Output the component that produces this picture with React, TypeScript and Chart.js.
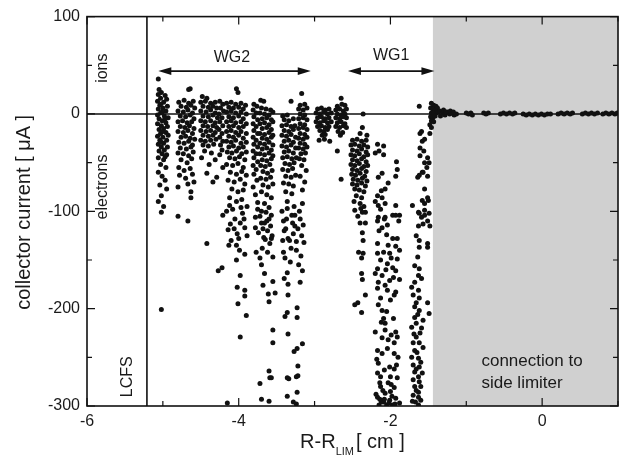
import React, { useEffect, useRef } from "react";
import { Chart, registerables } from "chart.js";

Chart.register(...registerables);

// ---- axes ----
const xTickValues = [-6, -5, -4, -3, -2, -1, 0, 1];
const xLabelValues = [-6, -4, -2, 0];
const yTickValues = [100, 50, 0, -50, -100, -150, -200, -250, -300];
const yLabelValues = [100, 0, -100, -200, -300];
const lcfsPosition = -5.21;
const limiterStart = -1.44;

// ---- WG2 region ----
const wg2ColA: [number, number][] = [
  [-5.06, 36], [-5.05, 25], [-5.02, 22], [-4.97, 19], [-5.06, 20], [-5.03, 16], [-4.95, 15], [-5.07, 13],
  [-4.99, 12], [-5.04, 9], [-4.94, 8], [-5.06, 5], [-5.0, 6], [-4.96, 3], [-5.03, 1], [-5.07, -1],
  [-4.98, -2], [-4.93, -4], [-5.05, -5], [-5.01, -7], [-4.96, -9], [-5.07, -10], [-5.02, -12], [-4.94, -13],
  [-4.99, -15], [-5.05, -16], [-5.03, -20], [-4.96, -19], [-4.93, -22], [-5.07, -23], [-5.0, -24], [-5.04, -27],
  [-4.95, -27], [-4.99, -30], [-5.06, -31], [-5.02, -34], [-4.94, -34], [-4.98, -37], [-5.05, -38], [-5.01, -41],
  [-4.95, -42], [-5.06, -45], [-4.99, -47], [-5.03, -52], [-4.96, -55], [-5.06, -60], [-5.01, -64], [-4.97, -68],
  [-5.04, -73], [-4.95, -77], [-5.02, -84], [-5.06, -90], [-4.99, -95], [-5.02, -101], [-5.02, -201],
  [-5.03, 10], [-4.97, -5], [-5.01, 2], [-5.0, -18], [-5.02, -29], [-4.97, -44],
];
const wg2ColB: [number, number][] = [
  [-4.66, 25], [-4.64, 26],
  [-4.79, 12], [-4.72, 14], [-4.66, 11], [-4.6, 13], [-4.76, 8], [-4.69, 7], [-4.63, 9], [-4.58, 6],
  [-4.8, 3], [-4.73, 2], [-4.67, 4], [-4.61, 1], [-4.77, -2], [-4.7, -3], [-4.64, -1], [-4.59, -5],
  [-4.8, -8], [-4.74, -7], [-4.68, -9], [-4.62, -8], [-4.77, -13], [-4.71, -14], [-4.65, -12], [-4.59, -15],
  [-4.8, -18], [-4.73, -19], [-4.67, -17], [-4.61, -20], [-4.76, -24], [-4.7, -23], [-4.64, -25], [-4.58, -26],
  [-4.79, -29], [-4.72, -30], [-4.66, -28], [-4.61, -32], [-4.77, -35], [-4.69, -36], [-4.63, -34],
  [-4.8, -40], [-4.73, -41], [-4.66, -43], [-4.6, -39], [-4.76, -47], [-4.68, -50], [-4.62, -46],
  [-4.79, -55], [-4.72, -58], [-4.64, -56], [-4.78, -63], [-4.7, -66], [-4.61, -62], [-4.8, -75], [-4.67, -72],
  [-4.63, -80], [-4.63, -86], [-4.8, -105], [-4.67, -110], [-4.59, -70],
];
const wg2ColC: [number, number][] = [
  [-4.48, 18], [-4.42, 16], [-4.5, 12], [-4.44, 13], [-4.37, 11], [-4.31, 12], [-4.47, 8], [-4.4, 7],
  [-4.34, 8], [-4.29, 6], [-4.5, 3], [-4.43, 2], [-4.37, 4], [-4.31, 1], [-4.47, -2], [-4.4, -3],
  [-4.34, -1], [-4.28, -4], [-4.5, -7], [-4.44, -8], [-4.37, -7], [-4.31, -9], [-4.47, -12], [-4.41, -13],
  [-4.34, -12], [-4.29, -14], [-4.5, -17], [-4.43, -18], [-4.37, -17], [-4.31, -19], [-4.47, -22], [-4.4, -23],
  [-4.34, -22], [-4.5, -27], [-4.44, -28], [-4.37, -27], [-4.3, -26], [-4.47, -32], [-4.4, -33], [-4.33, -31],
  [-4.45, -38], [-4.36, -40], [-4.49, -45], [-4.31, -47], [-4.42, -61], [-4.34, -70], [-4.29, -65], [-4.39, -52],
];
const wg2ColD: [number, number][] = [
  [-4.25, 13], [-4.21, 10], [-4.24, 6], [-4.2, 3], [-4.26, 0], [-4.22, -4], [-4.25, -8], [-4.21, -12],
  [-4.26, -16], [-4.22, -20], [-4.25, -24], [-4.21, -28], [-4.24, -32], [-4.22, -37], [-4.25, -42], [-4.21, -55],
];
const wg2ColE: [number, number][] = [
  [-4.03, 26], [-4.01, 22],
  [-4.16, 11], [-4.1, 12], [-4.04, 10], [-3.97, 11], [-3.91, 9], [-4.13, 7], [-4.07, 6], [-4.0, 7], [-3.94, 5],
  [-4.16, 2], [-4.1, 3], [-4.04, 1], [-3.97, 2], [-3.9, 0], [-4.13, -3], [-4.07, -4], [-4.0, -2], [-3.94, -5],
  [-4.16, -8], [-4.1, -7], [-4.04, -9], [-3.97, -8], [-3.9, -10], [-4.13, -13], [-4.07, -12], [-4.0, -14], [-3.94, -13],
  [-4.16, -18], [-4.1, -17], [-4.04, -19], [-3.97, -18], [-3.9, -20], [-4.13, -23], [-4.07, -24], [-4.0, -22], [-3.94, -25],
  [-4.16, -28], [-4.1, -29], [-4.04, -27], [-3.97, -30], [-3.9, -29], [-4.13, -34], [-4.07, -33], [-4.0, -35], [-3.94, -34],
  [-4.15, -39], [-4.09, -40], [-4.03, -38], [-3.96, -41], [-3.9, -39], [-4.12, -45], [-4.05, -46], [-3.99, -44], [-3.92, -47],
  [-4.16, -52], [-4.08, -53], [-4.01, -51], [-3.94, -55], [-4.11, -60], [-4.03, -62], [-3.96, -59], [-3.9, -63],
  [-4.14, -68], [-4.06, -70], [-3.98, -67], [-3.92, -72], [-4.09, -77], [-4.01, -80], [-3.94, -78],
  [-4.12, -86], [-4.03, -90], [-3.96, -88],
];
const wg2ColF: [number, number][] = [
  [-3.8, 10], [-3.76, 8], [-3.81, 4], [-3.77, 1], [-3.8, -3], [-3.75, -6], [-3.81, -10], [-3.77, -13],
  [-3.8, -17], [-3.75, -20], [-3.81, -24], [-3.77, -27], [-3.8, -31], [-3.75, -34], [-3.81, -38], [-3.77, -41],
  [-3.8, -45], [-3.75, -49], [-3.81, -53], [-3.77, -57], [-3.8, -62], [-3.76, -68], [-3.81, -75], [-3.78, -83], [-3.75, -91],
];
const wg2ColG: [number, number][] = [
  [-3.71, 14], [-3.67, 13], [-3.7, 6], [-3.64, 5], [-3.58, 4], [-3.72, 1], [-3.66, 0], [-3.6, -1], [-3.55, 2],
  [-3.69, -5], [-3.63, -4], [-3.57, -6], [-3.72, -10], [-3.66, -9], [-3.6, -11], [-3.55, -8],
  [-3.69, -15], [-3.63, -14], [-3.57, -16], [-3.72, -20], [-3.66, -21], [-3.6, -19], [-3.55, -22],
  [-3.69, -25], [-3.63, -26], [-3.57, -24], [-3.72, -30], [-3.66, -31], [-3.6, -29], [-3.55, -32],
  [-3.69, -36], [-3.63, -35], [-3.57, -37], [-3.72, -41], [-3.66, -42], [-3.6, -40], [-3.55, -43],
  [-3.69, -47], [-3.63, -48], [-3.57, -46], [-3.71, -53], [-3.65, -54], [-3.59, -52],
  [-3.68, -59], [-3.62, -61], [-3.56, -58], [-3.71, -66], [-3.64, -67], [-3.58, -65],
  [-3.68, -73], [-3.61, -75], [-3.55, -72], [-3.7, -80], [-3.63, -83], [-3.57, -86], [-3.66, -92], [-3.6, -96], [-3.7, -100],
];
const wg2ColH: [number, number][] = [
  [-3.31, 13], [-3.42, -2], [-3.36, -1], [-3.4, -6], [-3.34, -7], [-3.28, -5],
  [-3.43, -12], [-3.37, -11], [-3.31, -13], [-3.26, -12], [-3.4, -17], [-3.34, -18], [-3.28, -16],
  [-3.43, -22], [-3.37, -23], [-3.31, -21], [-3.25, -24], [-3.4, -28], [-3.34, -27], [-3.28, -29],
  [-3.43, -33], [-3.37, -34], [-3.31, -32], [-3.25, -35], [-3.4, -39], [-3.34, -38], [-3.28, -40],
  [-3.42, -45], [-3.36, -44], [-3.3, -46], [-3.24, -45], [-3.39, -51], [-3.33, -52], [-3.27, -50],
  [-3.42, -57], [-3.35, -58], [-3.29, -56], [-3.38, -64], [-3.31, -65], [-3.25, -63],
  [-3.41, -71], [-3.34, -72], [-3.28, -74], [-3.38, -80], [-3.3, -82], [-3.36, -90], [-3.27, -95],
];
const wg2ColI: [number, number][] = [
  [-3.17, 21], [-3.19, 9], [-3.13, 10], [-3.21, 5], [-3.15, 4], [-3.1, 6], [-3.19, 0], [-3.13, -1],
  [-3.21, -5], [-3.15, -4], [-3.1, -6], [-3.19, -10], [-3.13, -11], [-3.21, -15], [-3.15, -14], [-3.1, -16],
  [-3.19, -20], [-3.13, -21], [-3.21, -25], [-3.15, -26], [-3.1, -24], [-3.19, -30], [-3.13, -31],
  [-3.21, -35], [-3.15, -36], [-3.1, -34], [-3.18, -41], [-3.12, -40], [-3.2, -46], [-3.14, -47],
  [-3.17, -53], [-3.11, -58], [-3.19, -64], [-3.13, -70], [-3.16, -78],
];
const wg2Tail: [number, number][] = [
  [-4.42, -133], [-4.27, -161], [-4.22, -158], [-4.21, -104], [-4.13, -135], [-4.03, -150], [-3.98, -166],
  [-4.02, -178], [-3.92, -181], [-3.92, -187], [-4.01, -195], [-3.9, -207], [-3.98, -229], [-4.15, -297],
  [-3.77, -142], [-3.72, -148], [-3.66, -164], [-3.68, -176], [-3.55, -172], [-3.52, -184], [-3.61, -185],
  [-3.6, -193], [-3.55, -222], [-3.55, -235], [-3.6, -264], [-3.59, -271], [-3.57, -271], [-3.72, -277],
  [-3.7, -293], [-3.6, -295], [-3.41, -142], [-3.39, -148], [-3.32, -152], [-3.36, -163], [-3.4, -169],
  [-3.35, -175], [-3.35, -186], [-3.36, -204], [-3.39, -208], [-3.23, -199], [-3.23, -209], [-3.35, -226],
  [-3.16, -236], [-3.23, -241], [-3.27, -244], [-3.22, -259], [-3.22, -269], [-3.24, -270], [-3.34, -272],
  [-3.36, -271], [-3.36, -290], [-3.23, -286], [-3.28, -296], [-3.24, -298], [-3.16, -161], [-3.19, -173],
  [-3.24, -140], [-3.24, -131], [-3.16, -92], [-3.15, -114], [-3.28, -123], [-3.59, -133], [-3.65, -129],
  [-3.57, -128], [-3.67, -127], [-3.55, -147], [-3.78, -117], [-3.68, -118], [-4.02, -123], [-4.03, -135],
  [-3.92, -117], [-3.92, -144], [-4.0, -128], [-4.11, -113], [-4.14, -119],
  [-4.08, -98], [-3.95, -102], [-4.05, -108], [-3.89, -95], [-3.72, -105], [-3.63, -110], [-3.57, -104],
  [-3.75, -98], [-3.43, -100], [-3.37, -108], [-3.3, -104], [-3.26, -115], [-3.4, -120], [-3.2, -100],
  [-3.17, -125], [-3.33, -130], [-3.62, -120], [-3.7, -112], [-4.16, -100], [-3.98, -112],
  [-4.12, -94], [-4.06, -118], [-3.97, -96], [-3.93, -108], [-3.89, -125], [-4.1, -130], [-3.99, -140],
  [-3.78, -106], [-3.74, -122], [-3.69, -138], [-3.64, -101], [-3.58, -115], [-3.56, -125], [-3.62, -142],
  [-3.7, -155], [-3.41, -110], [-3.38, -118], [-3.35, -128], [-3.31, -138], [-3.29, -112], [-3.26, -104],
  [-3.22, -118], [-3.19, -108], [-3.14, -132], [-3.18, -146], [-3.21, -155], [-3.42, -130], [-3.36, -97],
  [-3.6, -108], [-3.66, -112],
];

// ---- between the two groups ----
const gapClusterJ: [number, number][] = [
  [-2.96, 5], [-2.91, 6], [-2.86, 4], [-2.81, 5], [-2.98, 1], [-2.93, 0], [-2.88, 2], [-2.83, 0], [-2.78, 1],
  [-2.96, -4], [-2.91, -3], [-2.86, -5], [-2.81, -4], [-2.98, -8], [-2.93, -9], [-2.88, -7], [-2.83, -9], [-2.78, -8],
  [-2.96, -13], [-2.91, -12], [-2.86, -14], [-2.81, -13], [-2.93, -17], [-2.88, -18], [-2.83, -16],
  [-2.9, -22], [-2.86, -21], [-2.94, -27], [-2.87, -26], [-2.8, -28],
];
const gapClusterK: [number, number][] = [
  [-2.65, 16], [-2.64, 10], [-2.7, 8], [-2.6, 9], [-2.72, 4], [-2.67, 5], [-2.62, 3], [-2.58, 5],
  [-2.7, 0], [-2.65, -1], [-2.6, 0], [-2.72, -4], [-2.67, -5], [-2.62, -3], [-2.58, -4],
  [-2.7, -9], [-2.65, -8], [-2.6, -10], [-2.72, -13], [-2.67, -14], [-2.62, -12], [-2.58, -14],
  [-2.69, -18], [-2.63, -19], [-2.66, -22], [-2.7, -38], [-2.65, -67], [-2.36, 0], [-1.62, 8],
];

// ---- WG1 region ----
const wg1ColL: [number, number][] = [
  [-2.37, -14], [-2.4, -20], [-2.31, -22], [-2.5, -27], [-2.44, -26], [-2.38, -28], [-2.32, -27],
  [-2.52, -32], [-2.47, -31], [-2.41, -33], [-2.35, -32], [-2.3, -34], [-2.5, -37], [-2.44, -38], [-2.38, -36], [-2.32, -39],
  [-2.52, -42], [-2.47, -43], [-2.41, -41], [-2.35, -44], [-2.3, -42], [-2.5, -47], [-2.44, -48], [-2.38, -46], [-2.32, -49],
  [-2.52, -52], [-2.47, -53], [-2.41, -51], [-2.35, -54], [-2.3, -53], [-2.5, -57], [-2.44, -58], [-2.38, -56], [-2.32, -59],
  [-2.51, -62], [-2.46, -63], [-2.4, -61], [-2.34, -64], [-2.49, -67], [-2.43, -68], [-2.37, -66], [-2.31, -69],
  [-2.5, -72], [-2.44, -73], [-2.38, -71], [-2.33, -74], [-2.47, -77], [-2.41, -78], [-2.35, -80],
  [-2.45, -84], [-2.38, -86], [-2.48, -90], [-2.4, -92], [-2.35, -95], [-2.47, -99], [-2.39, -97], [-2.43, -105],
  [-2.37, -101], [-2.33, -101], [-2.4, -112], [-2.33, -112], [-2.37, -122], [-2.36, -130], [-2.42, -142],
  [-2.36, -143], [-2.38, -148], [-2.38, -164], [-2.37, -170], [-2.33, -186], [-2.43, -194], [-2.47, -196], [-2.38, -204],
];
const wg1ColM: [number, number][] = [
  [-2.17, -31], [-2.09, -33], [-2.2, -40], [-2.15, -38], [-1.92, -49], [-2.09, -42], [-1.91, -57], [-1.93, -64],
  [-2.11, -61], [-2.16, -65], [-2.03, -71], [-2.07, -77], [-2.12, -79], [-2.17, -84], [-2.11, -86], [-2.2, -90],
  [-2.16, -94], [-2.07, -92], [-1.93, -94], [-1.88, -104], [-1.97, -104], [-2.16, -106], [-2.07, -106],
  [-2.17, -110], [-2.08, -108], [-1.93, -104], [-1.89, -110], [-2.11, -117], [-2.04, -114], [-1.97, -128],
  [-1.91, -128], [-2.17, -133], [-2.03, -135], [-1.93, -136], [-2.09, -142], [-2.17, -143], [-2.01, -143],
  [-1.88, -140], [-2.13, -150], [-2.04, -154], [-1.97, -158], [-1.91, -149], [-2.17, -159], [-1.93, -161],
  [-2.2, -164], [-2.11, -166], [-1.96, -168], [-1.88, -170], [-2.16, -173], [-2.07, -176], [-2.01, -171],
  [-2.17, -179], [-2.04, -181], [-1.93, -183], [-2.13, -189], [-2.0, -191], [-1.95, -186], [-2.16, -196],
  [-2.11, -202], [-2.05, -203], [-2.09, -210], [-2.07, -215], [-2.2, -224], [-2.07, -222], [-1.99, -227],
  [-1.93, -224], [-2.11, -230], [-2.03, -232], [-1.95, -235], [-1.91, -229], [-2.17, -243], [-2.11, -246],
  [-2.04, -241], [-1.95, -246], [-1.9, -250], [-2.16, -256], [-2.01, -260], [-1.95, -262], [-2.17, -266],
  [-2.13, -270], [-2.0, -270], [-1.91, -271], [-2.13, -280], [-2.03, -276], [-1.95, -281], [-2.0, -285],
  [-2.07, -287], [-2.17, -291], [-2.09, -296], [-2.01, -294], [-1.93, -292], [-1.88, -297], [-2.15, -299],
  [-2.05, -299], [-1.97, -299], [-2.12, -296], [-2.19, -288], [-2.1, -284], [-1.98, -290], [-2.08, -293],
  [-2.14, -293], [-1.94, -298], [-2.02, -297],
  [-2.13, -98], [-2.05, -124], [-1.99, -148], [-2.15, -120], [-2.06, -160], [-2.12, -214], [-1.96, -210],
  [-2.18, -252], [-2.08, -263], [-1.92, -258], [-2.14, -276], [-1.99, -278],
];
const wg1ColN: [number, number][] = [
  [-1.61, -20], [-1.59, -18], [-1.58, -28], [-1.55, -26], [-1.61, -35], [-1.56, -38], [-1.61, -43], [-1.51, -45],
  [-1.55, -50], [-1.49, -50], [-1.52, -55], [-1.58, -60], [-1.62, -63], [-1.64, -65], [-1.57, -60], [-1.51, -64],
  [-1.55, -77], [-1.51, -86], [-1.58, -89], [-1.55, -92], [-1.5, -89], [-1.71, -94], [-1.55, -99], [-1.62, -102],
  [-1.55, -104], [-1.49, -102], [-1.63, -101], [-1.59, -106], [-1.57, -113], [-1.63, -115], [-1.48, -115],
  [-1.51, -110], [-1.66, -125], [-1.62, -130], [-1.51, -133], [-1.51, -137], [-1.62, -137], [-1.64, -147],
  [-1.68, -156], [-1.62, -159], [-1.63, -166], [-1.59, -169], [-1.68, -173], [-1.72, -178], [-1.63, -181],
  [-1.7, -186], [-1.62, -189], [-1.66, -194], [-1.68, -198], [-1.62, -202], [-1.57, -212], [-1.68, -209],
  [-1.51, -194], [-1.49, -205], [-1.72, -219], [-1.59, -220], [-1.66, -229], [-1.7, -235], [-1.62, -235],
  [-1.57, -240], [-1.68, -243], [-1.72, -250], [-1.63, -251], [-1.7, -258], [-1.62, -260], [-1.68, -265],
  [-1.63, -270], [-1.7, -273], [-1.62, -275], [-1.68, -280], [-1.63, -286], [-1.7, -289], [-1.63, -291],
  [-1.67, -296], [-1.63, -299], [-1.66, -215], [-1.61, -225], [-1.65, -245], [-1.6, -255], [-1.66, -262],
  [-1.6, -280], [-1.66, -284], [-1.6, -294], [-1.71, -295], [-1.58, -266], [-1.69, -226], [-1.64, -206],
];
const limiterEdge: [number, number][] = [
  [-1.46, 11], [-1.43, 9], [-1.4, 8], [-1.47, 6], [-1.44, 5], [-1.41, 4], [-1.38, 6], [-1.46, 1], [-1.43, 0],
  [-1.4, 1], [-1.37, 2], [-1.47, -3], [-1.44, -4], [-1.41, -2], [-1.46, -7], [-1.43, -8], [-1.48, -11],
  [-1.46, -14], [-1.48, -20],
];
const limiterShadow: [number, number][] = [
  [-1.35, 3], [-1.31, 1], [-1.28, -1], [-1.25, 2], [-1.22, 0], [-1.19, 1], [-1.16, -1], [-1.13, 0],
  [-1.34, -2], [-1.3, 4], [-1.27, 2], [-1.21, 3], [-1.17, 2],
  [-1.0, 1], [-0.97, 0], [-0.94, 1], [-0.92, -1], [-0.77, 1], [-0.74, 0], [-0.71, 1],
  [-0.55, 0], [-0.51, 1], [-0.47, 0], [-0.43, 1], [-0.39, 0], [-0.36, 1],
  [-0.25, 0], [-0.21, -1], [-0.17, 0], [-0.13, -1], [-0.09, 0], [-0.05, -1], [-0.01, 0], [0.03, -1], [0.07, 0], [0.11, 0],
  [0.21, 0], [0.25, 1], [0.29, 0], [0.33, 1], [0.37, 0], [0.4, 1],
  [0.53, 0], [0.57, 1], [0.61, 0], [0.65, 1], [0.69, 0], [0.73, 1],
  [0.8, 0], [0.84, 1], [0.88, 0], [0.92, 1], [0.96, 0], [0.99, 1],
];

const allSeries = [
  wg2ColA, wg2ColB, wg2ColC, wg2ColD, wg2ColE, wg2ColF, wg2ColG, wg2ColH, wg2ColI, wg2Tail,
  gapClusterJ, gapClusterK, wg1ColL, wg1ColM, wg1ColN, limiterEdge, limiterShadow,
];

const FONT = "'Liberation Sans', Arial, Helvetica, sans-serif";
const INK = "#111111";

function arrow(ctx: CanvasRenderingContext2D, x1: number, x2: number, y: number) {
  const hl = 13;
  const hw = 3.8;
  ctx.save();
  ctx.strokeStyle = INK;
  ctx.fillStyle = INK;
  ctx.lineWidth = 1.6;
  ctx.beginPath();
  ctx.moveTo(x1 + hl - 2, y);
  ctx.lineTo(x2 - hl + 2, y);
  ctx.stroke();
  ctx.beginPath();
  ctx.moveTo(x1, y);
  ctx.lineTo(x1 + hl, y - hw);
  ctx.lineTo(x1 + hl, y + hw);
  ctx.closePath();
  ctx.fill();
  ctx.beginPath();
  ctx.moveTo(x2, y);
  ctx.lineTo(x2 - hl, y - hw);
  ctx.lineTo(x2 - hl, y + hw);
  ctx.closePath();
  ctx.fill();
  ctx.restore();
}

const decorPlugin = {
  id: "decor",
  beforeDatasetsDraw(chart: any) {
    const { ctx, chartArea: a, scales } = chart;
    const xs = scales.x;
    const ys = scales.y;
    ctx.save();
    ctx.fillStyle = "#d0d0d0";
    const gx = xs.getPixelForValue(limiterStart);
    ctx.fillRect(gx, a.top, a.right - gx, a.bottom - a.top);
    ctx.strokeStyle = INK;
    ctx.lineWidth = 1.6;
    ctx.beginPath();
    const y0 = ys.getPixelForValue(0);
    ctx.moveTo(a.left, y0);
    ctx.lineTo(a.right, y0);
    const lx = xs.getPixelForValue(lcfsPosition);
    ctx.moveTo(lx, a.top);
    ctx.lineTo(lx, a.bottom);
    ctx.stroke();
    ctx.restore();
  },
  afterDatasetsDraw(chart: any) {
    const { ctx, chartArea: a, scales } = chart;
    const xs = scales.x;
    const ys = scales.y;
    ctx.save();
    ctx.strokeStyle = INK;
    ctx.lineWidth = 1.6;
    ctx.strokeRect(a.left, a.top, a.right - a.left, a.bottom - a.top);
    ctx.lineWidth = 1.2;
    ctx.beginPath();
    xTickValues.forEach((v) => {
      const px = xs.getPixelForValue(v);
      const len = xLabelValues.includes(v) ? 8 : 5;
      ctx.moveTo(px, a.bottom);
      ctx.lineTo(px, a.bottom - len);
      ctx.moveTo(px, a.top);
      ctx.lineTo(px, a.top + len);
    });
    yTickValues.forEach((v) => {
      const py = ys.getPixelForValue(v);
      const len = yLabelValues.includes(v) ? 8 : 5;
      ctx.moveTo(a.left, py);
      ctx.lineTo(a.left + len, py);
      ctx.moveTo(a.right, py);
      ctx.lineTo(a.right - len, py);
    });
    ctx.stroke();

    ctx.fillStyle = "#1a1a1a";
    ctx.font = `16px ${FONT}`;
    ctx.textAlign = "center";
    ctx.textBaseline = "middle";
    ctx.fillText("WG2", xs.getPixelForValue(-4.09), ys.getPixelForValue(58));
    ctx.fillText("WG1", xs.getPixelForValue(-1.99), ys.getPixelForValue(60));
    const ay = ys.getPixelForValue(44);
    arrow(ctx, xs.getPixelForValue(-5.06), xs.getPixelForValue(-3.05), ay);
    arrow(ctx, xs.getPixelForValue(-2.56), xs.getPixelForValue(-1.42), ay);

    const vtext = (t: string, x: number, y: number) => {
      ctx.save();
      ctx.translate(xs.getPixelForValue(x), ys.getPixelForValue(y));
      ctx.rotate(-Math.PI / 2);
      ctx.textAlign = "center";
      ctx.textBaseline = "middle";
      ctx.fillText(t, 0, 0);
      ctx.restore();
    };
    ctx.font = `16px ${FONT}`;
    vtext("ions", -5.8, 47);
    vtext("electrons", -5.8, -75);
    vtext("LCFS", -5.47, -270);

    ctx.font = `17px ${FONT}`;
    ctx.textAlign = "left";
    ctx.fillText("connection to", xs.getPixelForValue(-0.8), ys.getPixelForValue(-254));
    ctx.fillText("side limiter", xs.getPixelForValue(-0.8), ys.getPixelForValue(-277));

    ctx.save();
    ctx.font = `20px ${FONT}`;
    ctx.translate(24, (a.top + a.bottom) / 2 + 1);
    ctx.rotate(-Math.PI / 2);
    ctx.textAlign = "center";
    ctx.textBaseline = "middle";
    ctx.fillText("collector current [ \u03bcA ]", 0, 0);
    ctx.restore();

    ctx.textAlign = "left";
    ctx.textBaseline = "alphabetic";
    ctx.font = `20px ${FONT}`;
    const p1 = "R-R";
    const p3 = "[ cm ]";
    const w1 = ctx.measureText(p1).width;
    const w3 = ctx.measureText(p3).width;
    ctx.font = `11px ${FONT}`;
    const p2 = "LIM";
    const w2 = ctx.measureText(p2).width;
    const total = w1 + w2 + 2 + w3;
    const cx = (a.left + a.right) / 2;
    let sx = cx - total / 2;
    const base = 448;
    ctx.font = `20px ${FONT}`;
    ctx.fillText(p1, sx, base);
    sx += w1;
    ctx.font = `11px ${FONT}`;
    ctx.fillText(p2, sx, base + 7);
    sx += w2 + 2;
    ctx.font = `20px ${FONT}`;
    ctx.fillText(p3, sx, base);
    ctx.restore();
  },
};

export default function App() {
  const ref = useRef<HTMLCanvasElement | null>(null);
  useEffect(() => {
    if (!ref.current) return;
    const points = allSeries.flat().map(([x, y]) => ({ x, y }));
    const chart = new Chart(ref.current, {
      type: "scatter",
      data: {
        datasets: [
          {
            data: points,
            backgroundColor: INK,
            borderWidth: 0,
            pointRadius: 2.5,
            pointHoverRadius: 2.5,
          },
        ],
      },
      options: {
        animation: false,
        responsive: false,
        devicePixelRatio: 1,
        layout: { padding: { top: 15, right: 9, left: 0, bottom: 0 } },
        plugins: { legend: { display: false }, tooltip: { enabled: false } },
        scales: {
          x: {
            type: "linear",
            min: -6,
            max: 1,
            afterBuildTicks: (s: any) => {
              s.ticks = xLabelValues.map((v) => ({ value: v }));
            },
            ticks: {
              font: { family: FONT, size: 16 },
              color: "#1a1a1a",
              padding: 6,
              maxRotation: 0,
              autoSkip: false,
              callback: (v: any) => String(v),
            },
            grid: { display: false, drawTicks: false },
            border: { display: false },
            afterFit: (s: any) => {
              s.height = 56;
            },
          },
          y: {
            type: "linear",
            min: -300,
            max: 100,
            afterBuildTicks: (s: any) => {
              s.ticks = yLabelValues.map((v) => ({ value: v }));
            },
            ticks: {
              font: { family: FONT, size: 16 },
              color: "#1a1a1a",
              padding: 7,
              autoSkip: false,
              callback: (v: any) => String(v),
            },
            grid: { display: false, drawTicks: false },
            border: { display: false },
            afterFit: (s: any) => {
              s.width = 87;
            },
          },
        },
      },
      plugins: [decorPlugin],
    });
    return () => chart.destroy();
  }, []);
  return (
    <div style={{ position: "fixed", left: 0, top: 0, width: 627, height: 462, background: "#fff" }}>
      <canvas ref={ref} width={627} height={462} />
    </div>
  );
}
